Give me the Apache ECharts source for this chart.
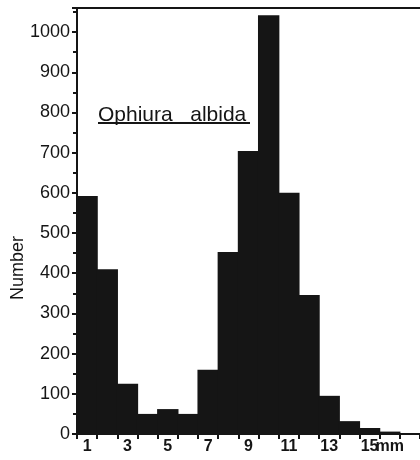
<!DOCTYPE html>
<html>
<head>
<meta charset="utf-8">
<script src="https://cdn.jsdelivr.net/npm/echarts@6/dist/echarts.min.js"></script>
<style>
  html, body { margin: 0; padding: 0; background: #fff; }
  #chart { width: 420px; height: 460px; }
</style>
</head>
<body>
<div id="chart"></div>
<script>
// Size classes (mm) and the number of animals counted in each
const sizeClasses = ['1','2','3','4','5','6','7','8','9','10','11','12','13','14','15','16','17'];
const counts = [592, 410, 125, 50, 62, 50, 160, 453, 704, 1042, 600, 346, 95, 32, 15, 6, 2];
// Labels printed under the size classes
const sizeLabels = ['1','','3','','5','','7','','9','','11','','13','','15','mm',''];
const yTicks = [0, 100, 200, 300, 400, 500, 600, 700, 800, 900, 1000];

const ink = '#151515';
const font = '"Liberation Sans", Arial, sans-serif';

const chart = echarts.init(document.getElementById('chart'), null, { renderer: 'canvas' });

chart.setOption({
  animation: false,
  backgroundColor: '#ffffff',
  grid: { left: 77, right: -4, top: 8, bottom: 26, containLabel: false },
  xAxis: [
    {
      type: 'category',
      data: sizeClasses,
      position: 'bottom',
      boundaryGap: true,
      axisLine: { show: true, lineStyle: { color: ink, width: 2 } },
      axisTick: { show: true, interval: 0, length: 5, lineStyle: { color: ink, width: 2 } },
      axisLabel: {
        interval: 0,
        margin: 5,
        color: ink,
        fontFamily: font,
        fontSize: 16,
        fontWeight: 'bold',
        formatter: (v, i) => sizeLabels[i]
      },
      splitLine: { show: false }
    },
    {
      // top border of the frame
      type: 'category',
      data: sizeClasses,
      position: 'top',
      axisLine: { show: true, lineStyle: { color: ink, width: 2 } },
      axisTick: { show: false },
      axisLabel: { show: false },
      splitLine: { show: false }
    }
  ],
  yAxis: {
    type: 'value',
    min: 0,
    max: 1060,
    interval: 100,
    axisLine: { show: true, lineStyle: { color: ink, width: 2 } },
    axisTick: { show: true, inside: false, length: 5, lineStyle: { color: ink, width: 2 } },
    minorTick: { show: true, splitNumber: 2, length: 4, lineStyle: { color: ink, width: 2 } },
    axisLabel: {
      showMaxLabel: false,
      margin: 7,
      color: ink,
      fontFamily: font,
      fontSize: 18,
      formatter: v => (yTicks.indexOf(v) >= 0 ? String(v) : '')
    },
    splitLine: { show: false }
  },
  series: [
    {
      type: 'bar',
      data: counts,
      // slightly wider than the class so neighbouring bars merge into one silhouette
      barWidth: '106%',
      barGap: '-100%',
      itemStyle: { color: ink, borderWidth: 0 },
      xAxisIndex: 0
    }
  ],
  graphic: [
    {
      type: 'text',
      x: 18,
      y: 268,
      rotation: Math.PI / 2,
      style: {
        text: 'Number',
        fill: ink,
        font: '18px ' + font,
        align: 'center',
        verticalAlign: 'middle'
      }
    },
    {
      type: 'text',
      x: 98,
      y: 115,
      style: {
        text: 'Ophiura   albida',
        fill: ink,
        font: '21px ' + font,
        align: 'left',
        verticalAlign: 'middle'
      }
    },
    {
      type: 'line',
      shape: { x1: 98, y1: 123, x2: 250, y2: 123 },
      style: { stroke: ink, lineWidth: 2 }
    }
  ]
});
</script>
</body>
</html>
